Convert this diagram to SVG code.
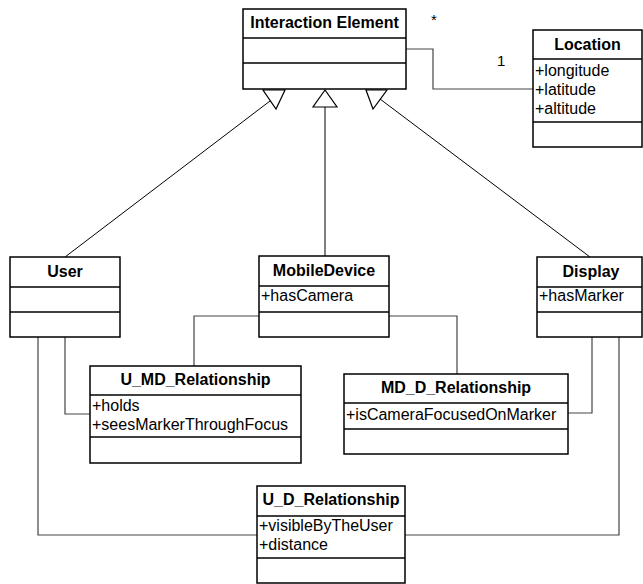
<svg xmlns="http://www.w3.org/2000/svg" width="643" height="584" viewBox="0 0 643 584">
<style>
.box{fill:#fff;stroke:#000;stroke-width:1.5}
.div{stroke:#000;stroke-width:1.5}
.h{font-family:"Liberation Sans",Arial,sans-serif;font-size:16px;font-weight:bold;text-anchor:middle;fill:#000}
.a{font-family:"Liberation Sans",Arial,sans-serif;font-size:16px;fill:#000}
.c{fill:none;stroke:#444;stroke-width:1.2}
.g{fill:none;stroke:#000;stroke-width:1}
.tri{fill:#fff;stroke:#000;stroke-width:1.2}
.m{font-family:"Liberation Sans",Arial,sans-serif;font-size:15px;fill:#000}
</style>
<rect width="643" height="584" fill="#fff"/>
<g id="connectors">
<polyline class="c" points="406,49 433,49 433,89 533,89"/>
<line class="g" x1="65" y1="257" x2="270" y2="101"/>
<line class="g" x1="325" y1="107" x2="325" y2="256"/>
<line class="g" x1="380" y1="99" x2="590" y2="257"/>
<polygon class="tri" points="263,90 285,90 276,109"/>
<polygon class="tri" points="313,107 337,107 325,90"/>
<polygon class="tri" points="366,90 387,90 373,109"/>
<polyline class="c" points="65,337 65,414 90,414"/>
<polyline class="c" points="38,337 38,535 257,535"/>
<polyline class="c" points="259,316 194,316 194,366"/>
<polyline class="c" points="389,316 457,316 457,374"/>
<polyline class="c" points="592,337 592,413 568,413"/>
<polyline class="c" points="619,337 619,535 405,535"/>
<text class="m" x="431" y="25">*</text>
<text class="m" x="497" y="66">1</text>
</g>
<g id="interaction-element">
<rect class="box" x="243" y="9" width="163" height="80"/>
<line class="div" x1="243" y1="38" x2="406" y2="38"/>
<line class="div" x1="243" y1="63" x2="406" y2="63"/>
<text class="h" x="324.5" y="28">Interaction Element</text>
</g>
<g id="location">
<rect class="box" x="533" y="30" width="109" height="117"/>
<line class="div" x1="533" y1="59" x2="642" y2="59"/>
<line class="div" x1="533" y1="122" x2="642" y2="122"/>
<text class="h" x="587.5" y="50">Location</text>
<text class="a" x="535" y="76">+longitude</text>
<text class="a" x="535" y="95">+latitude</text>
<text class="a" x="535" y="114">+altitude</text>
</g>
<g id="user">
<rect class="box" x="10" y="257" width="110" height="80"/>
<line class="div" x1="10" y1="287" x2="120" y2="287"/>
<line class="div" x1="10" y1="312" x2="120" y2="312"/>
<text class="h" x="65" y="277">User</text>
</g>
<g id="mobile-device">
<rect class="box" x="259" y="256" width="130" height="81"/>
<line class="div" x1="259" y1="286" x2="389" y2="286"/>
<line class="div" x1="259" y1="312" x2="389" y2="312"/>
<text class="h" x="324" y="276">MobileDevice</text>
<text class="a" x="261" y="301">+hasCamera</text>
</g>
<g id="display">
<rect class="box" x="537" y="257" width="105" height="80"/>
<line class="div" x1="537" y1="287" x2="642" y2="287"/>
<line class="div" x1="537" y1="312" x2="642" y2="312"/>
<text class="h" x="591" y="277">Display</text>
<text class="a" x="539" y="301">+hasMarker</text>
</g>
<g id="u-md-relationship">
<rect class="box" x="90" y="366" width="211" height="97"/>
<line class="div" x1="90" y1="395" x2="301" y2="395"/>
<line class="div" x1="90" y1="437" x2="301" y2="437"/>
<text class="h" x="195.5" y="385">U_MD_Relationship</text>
<text class="a" x="92" y="411">+holds</text>
<text class="a" x="92" y="430">+seesMarkerThroughFocus</text>
</g>
<g id="md-d-relationship">
<rect class="box" x="344" y="374" width="224" height="80"/>
<line class="div" x1="344" y1="403" x2="568" y2="403"/>
<line class="div" x1="344" y1="429" x2="568" y2="429"/>
<text class="h" x="456" y="393">MD_D_Relationship</text>
<text class="a" x="346" y="420">+isCameraFocusedOnMarker</text>
</g>
<g id="u-d-relationship">
<rect class="box" x="257" y="486" width="148" height="97"/>
<line class="div" x1="257" y1="516" x2="405" y2="516"/>
<line class="div" x1="257" y1="558" x2="405" y2="558"/>
<text class="h" x="331" y="505">U_D_Relationship</text>
<text class="a" x="259" y="531">+visibleByTheUser</text>
<text class="a" x="259" y="550">+distance</text>
</g>
</svg>
